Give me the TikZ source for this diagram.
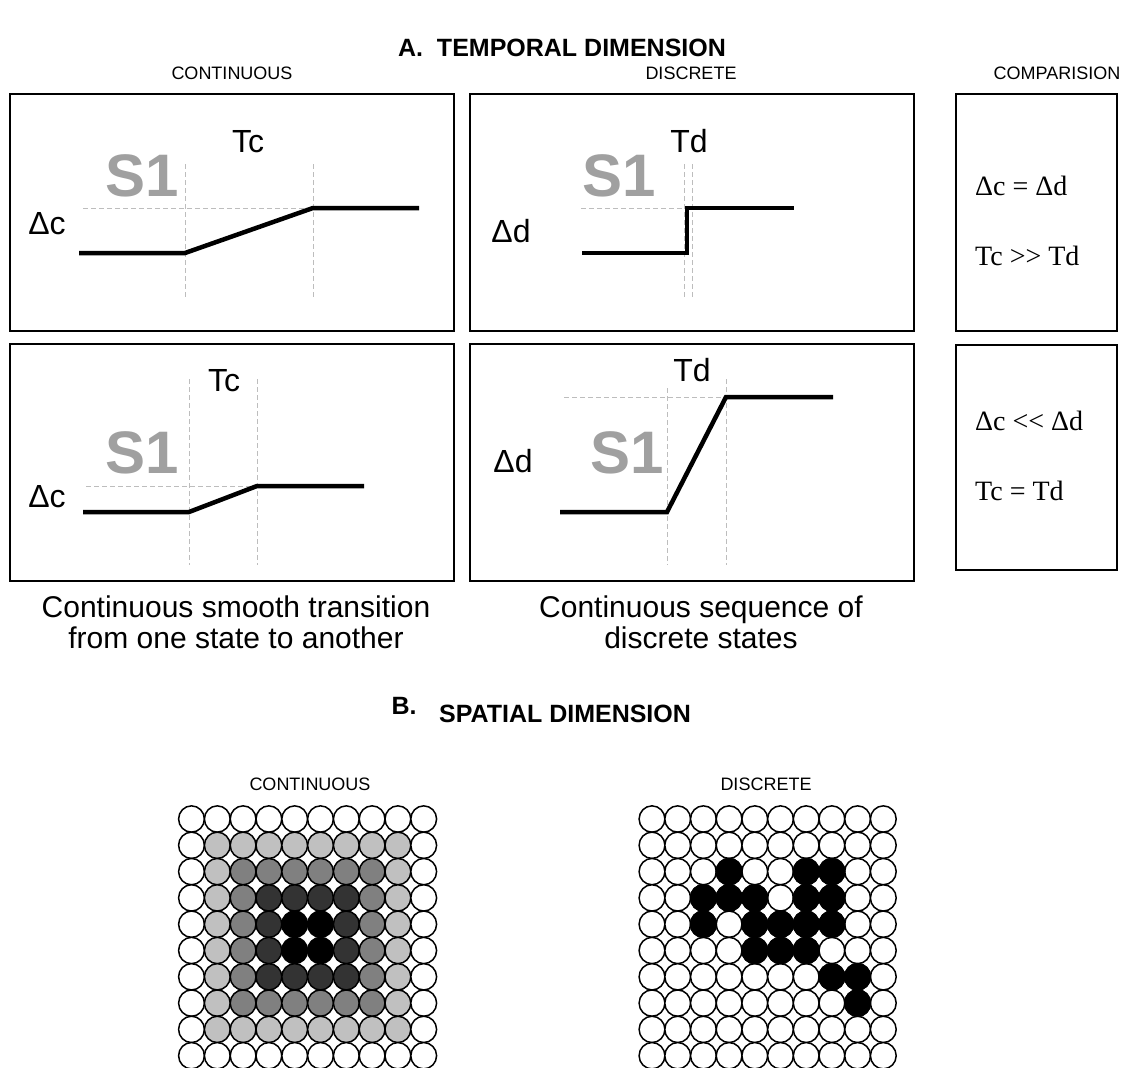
\documentclass[tikz,border=0pt]{standalone}
\usepackage{fontspec}
\setmainfont{Liberation Sans}
\newfontfamily\timesfont{Liberation Serif}
\usetikzlibrary{positioning}
\definecolor{ghostgray}{HTML}{A0A0A0}
\definecolor{guidegray}{HTML}{BDBDBD}
\definecolor{shade0}{HTML}{FFFFFF}
\definecolor{shade1}{HTML}{C0C0C0}
\definecolor{shade2}{HTML}{808080}
\definecolor{shade3}{HTML}{333333}
\definecolor{shade4}{HTML}{000000}

\begin{document}
\begin{tikzpicture}[x=1pt, y=-1pt,
  head/.style={font=\fontsize{25}{27}\selectfont\bfseries, inner sep=0pt, anchor=base},
  coltitle/.style={font=\fontsize{18}{20}\selectfont, inner sep=0pt, anchor=base},
  capt/.style={font=\fontsize{30}{31}\selectfont, align=center, inner sep=0pt, anchor=north},
  axlabel/.style={font=\fontsize{32}{34}\selectfont, inner sep=0pt},
  ghost/.style={font=\fontsize{60}{62}\selectfont\bfseries, text=ghostgray, inner sep=0pt},
  note/.style={font=\fontsize{28}{30}\timesfont, inner sep=0pt, anchor=west},
  panel/.style={draw, line width=1.4pt},
  guide/.style={draw=guidegray, line width=1pt, dash pattern=on 5pt off 3pt},
  trace/.style={line width=4.5pt},
  cell/.style={draw, line width=1.5pt}
]
\useasboundingbox (0,0) rectangle (1122,1068);

% A. temporal dimension
\node[head] (hA) at (562,56) {A.\ \ TEMPORAL DIMENSION};
\node[coltitle] (tCont) at (232,79) {CONTINUOUS};
\node[coltitle] (tDisc) at (691,79) {DISCRETE};
\node[coltitle] (tComp) at (1057,79) {COMPARISION};

\draw[panel] (10,94) rectangle (454,331);
\draw[panel] (470,94) rectangle (914,331);
\draw[panel] (956,94) rectangle (1117,331);
\draw[panel] (10,344) rectangle (454,581);
\draw[panel] (470,344) rectangle (914,581);
\draw[panel] (956,345) rectangle (1117,570);

% continuous, slow change
\node[ghost] (s1a) at (142,176) {S1};
\node[axlabel] (tca) at (248,142) {Tc};
\node[axlabel] (dca) at (47,224) {Δc};
\draw[guide] (83,208) -- (313,208);
\draw[guide] (185,164) -- (185,297);
\draw[guide] (313,164) -- (313,297);
\draw[trace] (79,253) -- (185,253) -- (313,208) -- (419,208);

% discrete, fast step
\node[ghost] (s1b) at (619,176) {S1};
\node[axlabel] (tdb) at (689,141) {Td};
\node[axlabel] (ddb) at (511,231) {Δd};
\draw[guide] (581,208) -- (690,208);
\draw[guide] (684,164) -- (684,297);
\draw[guide] (692,164) -- (692,297);
\draw[trace] (582,253) -- (687,253) -- (687,208) -- (794,208);

% continuous, small change
\node[ghost] (s1c) at (142,453) {S1};
\node[axlabel] (tcc) at (224,381) {Tc};
\node[axlabel] (dcc) at (47,497) {Δc};
\draw[guide] (86,486) -- (257,486);
\draw[guide] (189,379) -- (189,565);
\draw[guide] (257,379) -- (257,565);
\draw[trace] (83,512) -- (189,512) -- (257,486) -- (364,486);

% discrete, large change
\node[ghost] (s1d) at (627,453) {S1};
\node[axlabel] (tdd) at (692,370) {Td};
\node[axlabel] (ddd) at (513,461) {Δd};
\draw[guide] (564,397) -- (727,397);
\draw[guide] (667,388) -- (667,565);
\draw[guide] (726,379) -- (726,565);
\draw[trace] (560,512) -- (667,512) -- (726,397) -- (833,397);

% comparison
\node[note] (cmp1) at (975,186) {Δc = Δd};
\node[note] (cmp2) at (975,256) {Tc >> Td};
\node[note] (cmp3) at (975,421) {Δc << Δd};
\node[note] (cmp4) at (975,491) {Tc = Td};

\node[capt] (capC) at (236,596) {Continuous smooth transition\\from one state to another};
\node[capt] (capD) at (701,596) {Continuous sequence of\\discrete states};

% B. spatial dimension
\node[head] (hB) at (565,722) {SPATIAL DIMENSION};
\node[head, anchor=base east] (hBn) at ([xshift=-22pt, yshift=8pt]hB.base west) {B.};
\node[coltitle] (sCont) at (310,790) {CONTINUOUS};
\node[coltitle] (sDisc) at (766,790) {DISCRETE};

\foreach \r in {0,...,9}{
  \foreach \c in {0,...,9}{
    \pgfmathtruncatemacro{\lv}{min(\r,9-\r,\c,9-\c)}
    \draw[cell, fill=shade\lv] (191.5+25.8*\c, 819+26.3*\r) ellipse [x radius=12.9, y radius=13.15];
    \draw[cell, fill=white] (652+25.7*\c, 819+26.3*\r) ellipse [x radius=12.9, y radius=13.15];
  }
}
\foreach \r/\c in {2/3,2/6,2/7,3/2,3/3,3/4,3/6,3/7,4/2,4/4,4/5,4/6,4/7,5/4,5/5,5/6,6/7,6/8,7/8}
  \draw[cell, fill=black] (652+25.7*\c, 819+26.3*\r) ellipse [x radius=12.9, y radius=13.15];

\end{tikzpicture}
\end{document}
